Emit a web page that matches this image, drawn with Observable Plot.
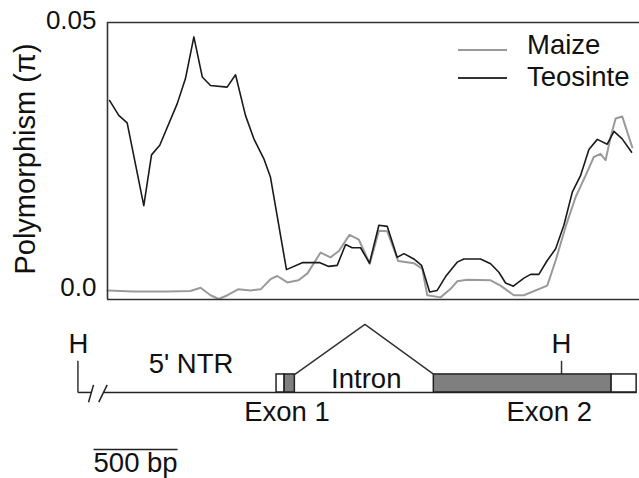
<!DOCTYPE html>
<html><head><meta charset="utf-8">
<script src="https://cdn.jsdelivr.net/npm/d3@7"></script>
<script src="https://cdn.jsdelivr.net/npm/@observablehq/plot@0.6"></script>
<style>
body{margin:0;background:#fff;}
#fig{position:relative;width:639px;height:478px;font-family:"Liberation Sans",Arial,sans-serif;color:#111;overflow:hidden;}
#fig svg{display:block;}
.leg{position:absolute;font-size:27.5px;line-height:1;white-space:nowrap;}
.sw{position:absolute;width:49px;height:0;}
</style></head><body><div id="fig"></div>
<script>
// ---- polymorphism data (position in bp from left edge of plotted region, pi) ----
const teoBp = [12,67,117,216,262,311,415,464,514,564,613,712,762,821,871,930,970,1065,1159,1264,1317,1367,1417,1456,1506,1559,1615,1665,1724,1764,1823,1869,1917,1962,2012,2081,2121,2220,2280,2329,2369,2415,2478,2518,2567,2617,2667,2716,2766,2815,2865,2915,2974,3014,3063,3119];
const teoPi = [0.0354,0.0326,0.0312,0.0157,0.0252,0.0270,0.0348,0.0395,0.0473,0.0398,0.0382,0.0379,0.0402,0.0326,0.0282,0.0245,0.0210,0.0037,0.0050,0.0050,0.0043,0.0045,0.0084,0.0078,0.0078,0.0049,0.0120,0.0118,0.0060,0.0067,0.0057,0.0045,-0.0005,-0.0002,0.0024,0.0051,0.0057,0.0057,0.0048,0.0032,0.0012,0.0006,0.0021,0.0028,0.0028,0.0054,0.0076,0.0120,0.0182,0.0213,0.0262,0.0281,0.0272,0.0296,0.0282,0.0257];
const maizeBp = [0,155,357,494,554,613,662,714,777,851,911,970,1010,1070,1137,1190,1268,1327,1377,1440,1496,1561,1615,1665,1730,1823,1873,1903,1982,2042,2081,2141,2280,2339,2418,2478,2617,2667,2726,2786,2845,2894,2934,2964,2994,3024,3063,3123];
const maizePi = [-0.0002,-0.0004,-0.0004,-0.0003,0.0003,-0.0011,-0.0018,-0.0011,0.0000,-0.0002,0.0000,0.0019,0.0025,0.0013,0.0017,0.0030,0.0069,0.0060,0.0072,0.0102,0.0093,0.0048,0.0110,0.0109,0.0053,0.0049,0.0039,-0.0011,-0.0015,0.0001,0.0015,0.0018,0.0017,0.0007,-0.0011,-0.0011,0.0007,0.0054,0.0117,0.0173,0.0213,0.0248,0.0254,0.0242,0.0285,0.0320,0.0324,0.0266];
const seriesNames = ["Maize", "Teosinte"];
const seriesColors = ["#9a9a9a", "#1a1a1a"];
const yTicks = [0, 0.05];
const yTickLabels = ["0.0", "0.05"];
const yTitle = "Polymorphism (\u03c0)";
const xDomain = [0, 3166];
const yDomain = [-0.0019, 0.05];

// ---- gene diagram data (bp, diagram height units) ----
const backboneStart = [-176, -24];
const backboneEnd = [-95, 3149];
const breakStart = [-113, -52];
const breakEnd = [-83, -2];
const breakLow = -0.54, breakHigh = 0.42;
const boxStart = [1006, 1054, 1942, 3000];
const boxEnd = [1054, 1115, 3000, 3149];
const boxCoding = [false, true, true, false];
const intronBp = [1115, 1532, 1942];
const intronH = [1, 3.78, 1];
const hSiteBp = [-176, 2702];
const hSiteFrom = [0, 1];
const hSiteTo = 1.76;
const labelText = ["H", "H", "5' NTR", "Intron", "Exon 1", "Exon 2"];
const labelBp = [-173, 2702, 497, 1540, 1068, 2629];
const labelH = [2.17, 2.17, 1.06, 0.22, -1.56, -1.56];
const scaleBarStart = -83, scaleBarLength = 500, scaleBarH = -3.17, scaleLabelH = -4.44;
const scaleLabel = "500 bp";

const maize = maizeBp.map((x, i) => ({x, y: maizePi[i]}));
const teo = teoBp.map((x, i) => ({x, y: teoPi[i]}));
const font = "Liberation Sans, Arial, sans-serif";

const chartTop = Plot.plot({
  width: 639, height: 305,
  marginLeft: 107, marginRight: 0, marginTop: 22, marginBottom: 6,
  style: {fontFamily: font, fontSize: "26px", color: "#111", background: "white", overflow: "visible"},
  x: {domain: xDomain, axis: null},
  y: {domain: yDomain},
  marks: [
    Plot.line(maize, {x: "x", y: "y", stroke: seriesColors[0], strokeWidth: 2}),
    Plot.line(teo, {x: "x", y: "y", stroke: seriesColors[1], strokeWidth: 1.6}),
    Plot.ruleX([xDomain[0]], {y1: yDomain[0], y2: yDomain[1], stroke: "#333", strokeWidth: 1.6}),
    Plot.ruleY(yDomain, {x1: xDomain[0], x2: xDomain[1], stroke: "#333", strokeWidth: 1.6}),
    Plot.axisY({ticks: yTicks, tickFormat: d => yTickLabels[yTicks.indexOf(d)], tickSize: 0, tickPadding: 11, label: null, fontSize: 26, dy: -1.5}),
    Plot.text([yTitle], {frameAnchor: "left", dx: -82, dy: -2, rotate: -90, fontSize: 29, textAnchor: "middle", lineAnchor: "middle", fill: "#111"})
  ]
});

const chartBottom = Plot.plot({
  width: 639, height: 173,
  marginLeft: 107, marginRight: 0, marginTop: 0, marginBottom: 0,
  style: {fontFamily: font, fontSize: "27.5px", color: "#111", background: "white", overflow: "visible"},
  x: {domain: xDomain, axis: null},
  y: {domain: [-4.78, 4.83], axis: null},
  marks: [
    Plot.link(backboneStart, {x1: d => d, x2: (d, i) => backboneEnd[i], y1: 0, y2: 0, stroke: "#222", strokeWidth: 1.5}),
    Plot.link(breakStart, {x1: d => d, x2: (d, i) => breakEnd[i], y1: breakLow, y2: breakHigh, stroke: "#222", strokeWidth: 1.5}),
    Plot.link(hSiteBp, {x1: d => d, x2: d => d, y1: (d, i) => hSiteFrom[i], y2: hSiteTo, stroke: "#333", strokeWidth: 1.5}),
    Plot.rect(boxStart, {x1: d => d, x2: (d, i) => boxEnd[i], y1: 0, y2: 1, fill: (d, i) => boxCoding[i] ? "#7f7f7f" : "white", stroke: "#222", strokeWidth: 1.5}),
    Plot.line(intronBp, {x: d => d, y: (d, i) => intronH[i], stroke: "#333", strokeWidth: 1.5}),
    Plot.text(labelText, {x: (d, i) => labelBp[i], y: (d, i) => labelH[i], text: d => d, lineAnchor: "bottom", textAnchor: "middle", fontSize: 27.5, fill: "#111"}),
    Plot.link([scaleBarStart], {x1: d => d, x2: d => d + scaleBarLength, y1: scaleBarH, y2: scaleBarH, stroke: "#222", strokeWidth: 1.5}),
    Plot.text([scaleLabel], {x: scaleBarStart, y: scaleLabelH, text: d => d, textAnchor: "start", lineAnchor: "bottom", fontSize: 27.5, fill: "#111"})
  ]
});

const fig = document.getElementById("fig");
fig.appendChild(chartTop);
fig.appendChild(chartBottom);

// legend (inside the top frame)
const legTops = [31, 63.4];
const swTops = [49, 77.3];
seriesNames.forEach((name, i) => {
  const sw = document.createElement("div");
  sw.className = "sw";
  sw.style.left = "458px";
  sw.style.top = swTops[i] + "px";
  sw.style.borderTop = "2px solid " + (i === 0 ? "#9a9a9a" : "#333");
  fig.appendChild(sw);
  const t = document.createElement("div");
  t.className = "leg";
  t.style.left = "527px";
  t.style.top = legTops[i] + "px";
  t.textContent = name;
  fig.appendChild(t);
});
</script>
</body></html>
